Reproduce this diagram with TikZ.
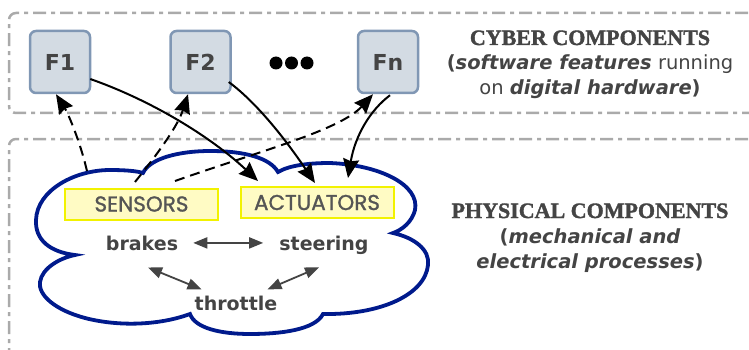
\documentclass[tikz,border=0pt]{standalone}
\usepackage{fontspec}
\usetikzlibrary{arrows.meta,calc}
\newfontfamily\vfont{DejaVu Sans}
\newfontfamily\hfont[FakeBold=1.6]{Liberation Serif}
\newfontfamily\cfont[FakeBold=1.2]{Poppins}
\definecolor{txt}{HTML}{444444}
\definecolor{fborder}{HTML}{8097B4}
\definecolor{ffill}{HTML}{D3DBE3}
\definecolor{ioborder}{HTML}{F2F200}
\definecolor{iofill}{HTML}{FFFBC4}
\definecolor{iotext}{HTML}{555555}
\definecolor{regioncol}{HTML}{AAAAAA}
\definecolor{cloudcol}{HTML}{001A8C}

\begin{document}
\begin{tikzpicture}[x=1pt,y=-1pt,
  fbox/.style={draw=fborder, fill=ffill, line width=2.5pt, rounded corners=6pt,
    minimum width=60pt, minimum height=62pt, inner sep=0pt, text=txt,
    font=\vfont\bfseries\fontsize{22}{25}\selectfont},
  io/.style={draw=ioborder, fill=iofill, line width=2pt, minimum width=153pt,
    minimum height=31pt, inner sep=0pt, text=iotext,
    font=\cfont\fontsize{21.5}{24}\selectfont},
  proc/.style={text=txt, font=\vfont\bfseries\fontsize{19}{22}\selectfont,
    inner sep=0pt, anchor=base},
  head/.style={text=txt, font=\hfont\bfseries\fontsize{22}{25}\selectfont,
    inner sep=0pt, anchor=base},
  note/.style={text=txt, font=\vfont\fontsize{19.5}{23}\selectfont,
    inner sep=0pt, anchor=base},
  dot/.style={circle, fill=black, minimum size=13pt, inner sep=0pt},
  link/.style={line width=2pt, -{Stealth[length=19pt,width=16pt,inset=2pt]}},
  sense/.style={link, dash pattern=on 10pt off 6pt},
  couple/.style={draw=txt, line width=1.8pt,
    {Triangle[length=14pt,width=11pt]}-{Triangle[length=14pt,width=11pt]}},
  region/.style={draw=regioncol, line width=2.5pt,
    dash pattern=on 13pt off 5pt on 4pt off 5pt, rounded corners=7pt},
  cloudline/.style={draw=cloudcol, line width=3.8pt, fill=white}
]
\useasboundingbox (0,0) rectangle (749,350);

% dashed region frames
\draw[region] (775,13) -- (9,13) -- (9,113) -- (775,113);
\draw[region] (775,139) -- (9,139) -- (9,375);

% cyber layer: software features
\node[fbox] (f1) at (60,62) {F1};
\node[fbox] (f2) at (200.5,62) {F2};
\node[fbox] (fn) at (388,62) {Fn};
\node[dot] (d1) at (276,63) {};
\node[dot] (d2) at (291.5,63) {};
\node[dot] (d3) at (307,63) {};

\node[head] (cyb1) at (590,45) {CYBER COMPONENTS};
\node[note] (cyb2) at (590,70) {{\bfseries (}{\bfseries\itshape software features} running};
\node[note] (cyb3) at (590,95) {on {\bfseries\itshape digital hardware}{\bfseries )}};

% physical layer: the plant cloud
\draw[cloudline] (75,255)
  .. controls (50,252) and (35,240) .. (36,220)
  .. controls (37,190) and (75,170) .. (110,170)
  .. controls (125,170) and (137,171) .. (143,173)
  .. controls (150,158) and (180,151) .. (210,151)
  .. controls (245,151) and (270,158) .. (278,172)
  .. controls (290,165) and (310,163) .. (330,163)
  .. controls (380,165) and (420,185) .. (415,210)
  .. controls (412,222) and (402,230) .. (393,233)
  .. controls (415,238) and (430,250) .. (428,265)
  .. controls (425,295) and (380,315) .. (323,314)
  .. controls (315,330) and (280,334) .. (250,334)
  .. controls (220,334) and (195,328) .. (190,314)
  .. controls (160,325) and (120,327) .. (85,318)
  .. controls (55,310) and (38,295) .. (40,282)
  .. controls (42,268) and (60,258) .. (75,255) -- cycle;

\node[io] (sen) at (141.5,204) {SENSORS};
\node[io] (act) at (317,202.5) {ACTUATORS};

\node[proc] (brakes) at (142,250) {brakes};
\node[proc] (steering) at (324,250) {steering};
\node[proc] (throttle) at (236,310) {throttle};

\node[head] (phy1) at (590,218) {PHYSICAL COMPONENTS};
\node[note] (phy2) at (590,243) {{\bfseries (}{\bfseries\itshape mechanical and}};
\node[note] (phy3) at (590,268) {{\bfseries\itshape electrical processes}{\bfseries )}};

% coupling between physical processes
\draw[couple] ([xshift=15pt]brakes.east) -- ($(brakes.east -| steering.west)+(-16,0)$);
\draw[couple] ([shift={(6,17)}]brakes.south) -- ([shift={(7,-6)}]throttle.north west);
\draw[couple] ([shift={(-5,13)}]steering.south) -- ([shift={(-10,-6)}]throttle.north east);

% sensing paths (dashed) and actuation paths (solid)
\draw[sense] ([shift={(-54.5,-16.5)}]sen.north) .. controls +(-7,-30) and +(12,19) .. ([shift={(-4,0)}]f1.south);
\draw[sense] ([shift={(-6.5,-5.5)}]sen.north) .. controls +(25,-31) and +(-10,31) .. ([shift={(-12.5,0)}]f2.south);
\draw[sense] ([shift={(33.5,-6.5)}]sen.north) .. controls +(85,-30) and +(-33,36) .. ([shift={(-15,0)}]fn.south);

\draw[link] ([shift={(-1,17)}]f1.east) .. controls +(60,21) and +(-48,-45) .. ([shift={(-59,-5)}]act.north);
\draw[link] ([shift={(-3,20)}]f2.east) .. controls +(31,23) and +(-25,-37) .. ([shift={(-2,-3)}]act.north);
\draw[link] ([shift={(2,1)}]fn.south) .. controls +(-20,15) and +(7,-42) .. ([shift={(31,-8)}]act.north);
\end{tikzpicture}
\end{document}
